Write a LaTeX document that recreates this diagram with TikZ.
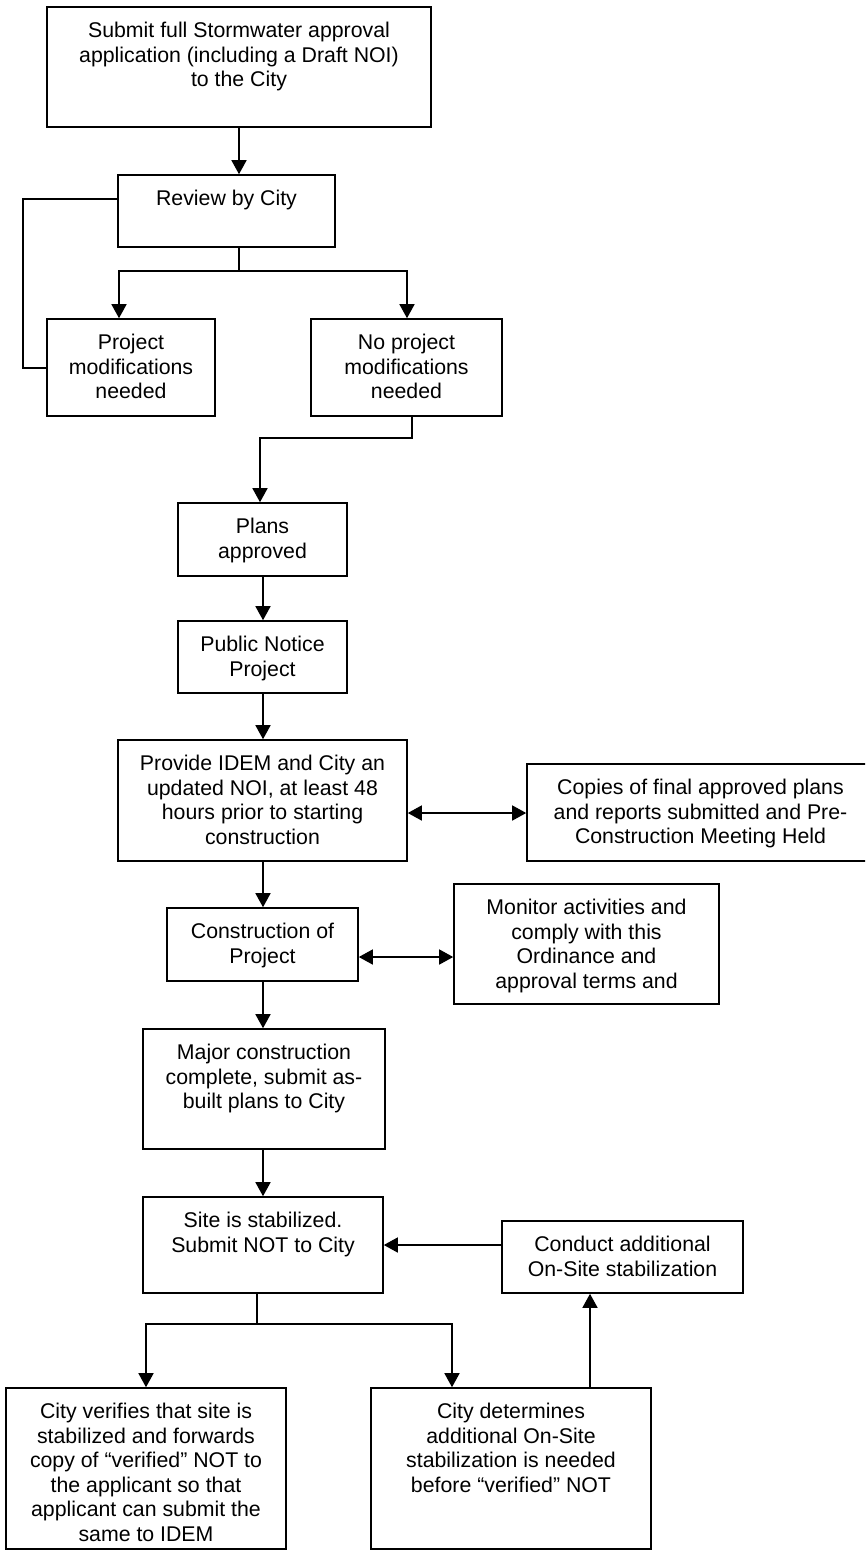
\documentclass[tikz,border=0pt]{standalone}
\usepackage{fontspec}
\setmainfont{Liberation Sans}
\usetikzlibrary{arrows.meta}
\tikzset{
  box/.style={draw, line width=1.6pt, inner sep=0pt},
  txt/.style={anchor=north, yshift=-16pt, inner sep=0pt, align=center,
              font=\fontsize{21.3}{24.5}\selectfont},
  ln/.style={line width=1.5pt},
  arr/.style={line width=1.5pt, -{Triangle[length=14pt,width=15pt]}},
  arrboth/.style={line width=1.5pt, {Triangle[length=14pt,width=15pt]}-{Triangle[length=14pt,width=15pt]}}
}
\begin{document}
\begin{tikzpicture}[x=1pt,y=-1pt]
\path[use as bounding box, clip] (0,0) rectangle (865,1550);
\fill[white] (0,0) rectangle (865,1550);

% boxes
\node[box, minimum width=384pt, minimum height=120pt,
  label={[txt]north:{Submit full Stormwater approval\\application (including a Draft NOI)\\to the City}}] (n1) at (239,67) {};
\node[box, minimum width=217pt, minimum height=72pt,
  label={[txt]north:{Review by City}}] (n2) at (226.5,211) {};
\node[box, minimum width=168pt, minimum height=97pt,
  label={[txt]north:{Project\\modifications\\needed}}] (n3) at (131,367.5) {};
\node[box, minimum width=191pt, minimum height=97pt,
  label={[txt]north:{No project\\modifications\\needed}}] (n4) at (406.5,367.5) {};
\node[box, minimum width=169pt, minimum height=73pt,
  label={[txt]north:{Plans\\approved}}] (n5) at (262.5,539.5) {};
\node[box, minimum width=169pt, minimum height=72pt,
  label={[txt]north:{Public Notice\\Project}}] (n6) at (262.5,657) {};
\node[box, minimum width=289pt, minimum height=121pt,
  label={[txt]north:{Provide IDEM and City an\\updated NOI, at least 48\\hours prior to starting\\construction}}] (n7) at (262.5,800.5) {};
\node[box, minimum width=347pt, minimum height=97pt,
  label={[txt]north:{Copies of final approved plans\\and reports submitted and Pre-\\Construction Meeting Held}}] (n8) at (700.5,812.5) {};
\node[box, minimum width=191pt, minimum height=73pt,
  label={[txt]north:{Construction of\\Project}}] (n9) at (262.5,944.5) {};
\node[box, minimum width=265pt, minimum height=120pt,
  label={[txt]north:{Monitor activities and\\comply with this\\Ordinance and\\approval terms and}}] (n10) at (586.5,944) {};
\node[box, minimum width=242pt, minimum height=120pt,
  label={[txt]north:{Major construction\\complete, submit as-\\built plans to City}}] (n11) at (264,1089) {};
\node[box, minimum width=240pt, minimum height=96pt,
  label={[txt]north:{Site is stabilized.\\Submit NOT to City}}] (n12) at (263,1245) {};
\node[box, minimum width=241pt, minimum height=72pt,
  label={[txt]north:{Conduct additional\\On-Site stabilization}}] (n13) at (622.5,1257) {};
\node[box, minimum width=280pt, minimum height=161pt,
  label={[txt]north:{City verifies that site is\\stabilized and forwards\\copy of “verified” NOT to\\the applicant so that\\applicant can submit the\\same to IDEM}}] (n14) at (146,1468.5) {};
\node[box, minimum width=280pt, minimum height=161pt,
  label={[txt]north:{City determines\\additional On-Site\\stabilization is needed\\before “verified” NOT}}] (n15) at (511,1468.5) {};

% helper coordinates
\coordinate (rb) at (239,271);
\coordinate (rbl) at (119,271);
\coordinate (rbr) at (407,271);
\coordinate (lp1) at (23,199);
\coordinate (lp2) at (23,368);
\coordinate (k1) at (412,438);
\coordinate (k2) at (260,438);
\coordinate (cx) at (263,0);
\coordinate (cm) at (0,957);
\coordinate (cp) at (0,813);
\coordinate (sb) at (257,1324);
\coordinate (sbr) at (452,1324);
\coordinate (up) at (590,1388);

% connectors
\draw[arr] (n1.south) -- (n1.south |- n2.north);
\draw[ln] (rb |- n2.south) -- (rb);
\draw[arr] (rb) -- (rbl) -- (rbl |- n3.north);
\draw[arr] (rb) -- (rbr) -- (rbr |- n4.north);
\draw[ln] (lp1 -| n2.west) -- (lp1) -- (lp2) -- (lp2 -| n3.west);
\draw[arr] (k1 |- n4.south) -- (k1) -- (k2) -- (k2 |- n5.north);
\draw[arr] (cx |- n5.south) -- (cx |- n6.north);
\draw[arr] (cx |- n6.south) -- (cx |- n7.north);
\draw[arrboth] (cp -| n7.east) -- (cp -| n8.west);
\draw[arr] (cx |- n7.south) -- (cx |- n9.north);
\draw[arrboth] (cm -| n9.east) -- (cm -| n10.west);
\draw[arr] (cx |- n9.south) -- (cx |- n11.north);
\draw[arr] (cx |- n11.south) -- (cx |- n12.north);
\draw[arr] (n13.west |- n12.east) -- (n12.east);
\draw[ln] (sb |- n12.south) -- (sb);
\draw[arr] (sb) -| (n14.north);
\draw[arr] (sb) -- (sbr) -- (sbr |- n15.north);
\draw[arr] (up |- n15.north) -- (up |- n13.south);
\end{tikzpicture}
\end{document}
